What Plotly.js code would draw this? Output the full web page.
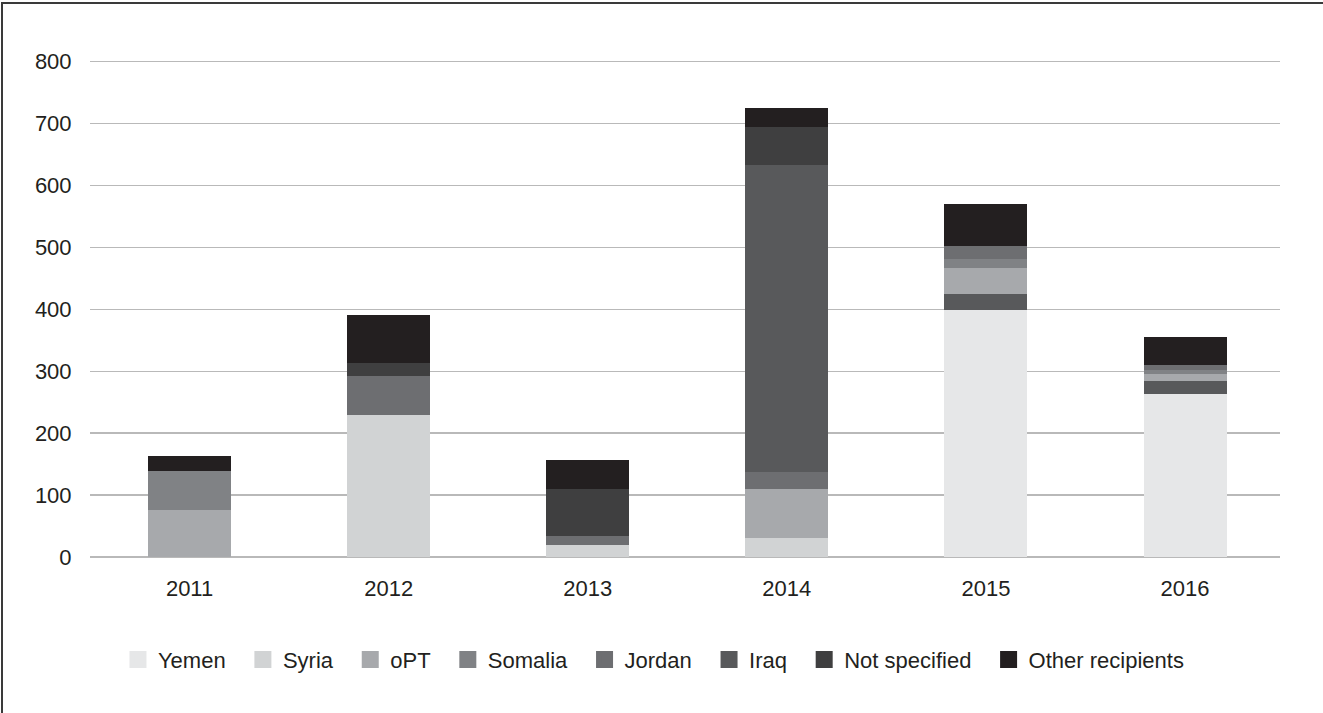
<!DOCTYPE html>
<html>
<head>
<meta charset="utf-8">
<script src="https://cdn.plot.ly/plotly-3.0.1.min.js"></script>
<style>
  html, body { margin: 0; padding: 0; background: #fff; }
  #wrap { position: relative; width: 1323px; height: 713px; overflow: hidden; }
  #chart { position: absolute; left: 0; top: 0; width: 1323px; height: 713px; }
  #frame { position: absolute; left: 1px; top: 2px; width: 1400px; height: 800px;
           border-left: 2px solid #3a3a3a; border-top: 2px solid #3a3a3a; pointer-events: none; }
</style>
</head>
<body>
<div id="wrap">
  <div id="chart"></div>
  <div id="frame"></div>
</div>
<script>
// Categories
const years = ['2011', '2012', '2013', '2014', '2015', '2016'];

// Series names (legend order)
const seriesNames = ['Yemen', 'Syria', 'oPT', 'Somalia', 'Jordan', 'Iraq', 'Not specified', 'Other recipients'];

// Series values
const yemen        = [0,   0,   0,   0,   398, 263];
const syria        = [0,   229, 19,  31,  0,   0];
const opt          = [76,  0,   0,   79,  42,  12];
const somalia      = [63,  0,   0,   0,   14,  6];
const jordan       = [0,   63,  15,  27,  21,  8];
const iraq         = [0,   0,   0,   496, 27,  21];
const notSpecified = [0,   21,  76,  62,  0,   0];
const other        = [24,  78,  47,  30,  68,  45];

// Y-axis tick values
const yTicks = [0, 100, 200, 300, 400, 500, 600, 700, 800];

// Years where Iraq is stacked directly above Yemen (below oPT) in the original
const iraqLowYears = ['2015', '2016'];

const seriesColors = ['#e6e7e8', '#d1d3d4', '#a7a9ac', '#808285', '#6d6e71', '#58595b', '#3f3f40', '#231f20'];

function bar(name, vals, color) {
  return {
    type: 'bar', name: name, x: years, y: vals,
    marker: { color: color, line: { width: 0 } },
    showlegend: false
  };
}

const iraqLow = iraq.map((v, i) => iraqLowYears.includes(years[i]) ? v : 0);
const iraqHigh = iraq.map((v, i) => iraqLowYears.includes(years[i]) ? 0 : v);

const data = [
  bar('Yemen', yemen, seriesColors[0]),
  bar('Syria', syria, seriesColors[1]),
  bar('Iraq', iraqLow, seriesColors[5]),
  bar('oPT', opt, seriesColors[2]),
  bar('Somalia', somalia, seriesColors[3]),
  bar('Jordan', jordan, seriesColors[4]),
  bar('Iraq', iraqHigh, seriesColors[5]),
  bar('Not specified', notSpecified, seriesColors[6]),
  bar('Other recipients', other, seriesColors[7])
];

// Legend entries (larger swatches; no visible marks)
const pad = '\u00a0\u00a0';
seriesNames.forEach((n, i) => {
  data.push({
    type: 'bar', name: i < seriesNames.length - 1 ? n + pad : n,
    x: years, y: years.map(() => null),
    marker: { color: seriesColors[i], line: { width: 5, color: seriesColors[i] } },
    showlegend: true, hoverinfo: 'skip'
  });
});

const font = { family: '"Liberation Sans", Arial, sans-serif', size: 22, color: '#231f20' };

const layout = {
  width: 1323, height: 713,
  margin: { l: 90, r: 43, t: 59, b: 156 },
  paper_bgcolor: '#ffffff', plot_bgcolor: '#ffffff',
  barmode: 'stack', bargap: 0.583,
  font: font,
  showlegend: true,
  legend: {
    orientation: 'h', x: 0.4735, xanchor: 'center', y: -0.206, yanchor: 'middle',
    font: font, traceorder: 'normal', bgcolor: 'rgba(0,0,0,0)'
  },
  xaxis: {
    type: 'category', range: [-0.5, 5.477],
    showgrid: false, zeroline: false, showline: false,
    ticks: 'outside', ticklen: 12, tickcolor: 'rgba(0,0,0,0)',
    tickfont: font, fixedrange: true
  },
  yaxis: {
    range: [0, 804], tickvals: yTicks,
    showgrid: true, gridcolor: '#b9b9b9', gridwidth: 1.3,
    zeroline: true, zerolinecolor: '#b9b9b9', zerolinewidth: 1.6,
    showline: false, ticks: 'outside', ticklen: 13, tickcolor: 'rgba(0,0,0,0)',
    tickfont: font, fixedrange: true
  }
};

Plotly.newPlot('chart', data, layout, { displayModeBar: false, staticPlot: true });
</script>
</body>
</html>
